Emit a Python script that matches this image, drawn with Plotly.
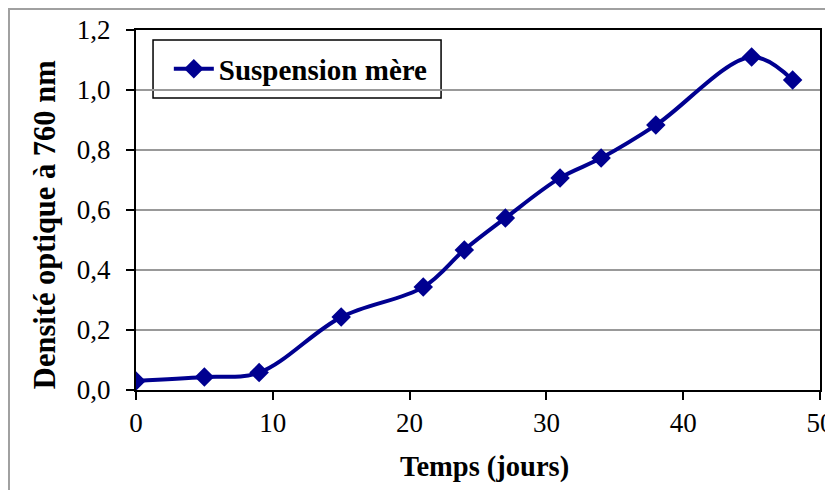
import plotly.graph_objects as go

jours = [0, 5, 9, 15, 21, 24, 27, 31, 34, 38, 45, 48]
densite = [0.03, 0.043, 0.058, 0.243, 0.343, 0.467, 0.573, 0.707, 0.773, 0.883, 1.11, 1.033]
serie_nom = "Suspension mère"
x_titre = "Temps (jours)"
y_titre = "Densité optique à 760 nm"

FONT = "Liberation Serif"
NAVY = "#000090"

fig = go.Figure()
fig.add_trace(go.Scatter(
    x=jours, y=densite, name=serie_nom,
    mode="lines+markers",
    line=dict(color=NAVY, width=4, shape="spline", smoothing=1),
    marker=dict(symbol="diamond", size=15, color=NAVY),
))

fig.update_layout(
    width=833, height=490,
    margin=dict(l=128, r=21, t=22, b=108, autoexpand=False),
    paper_bgcolor="white", plot_bgcolor="white",
    font=dict(family=FONT, size=27, color="black"),
    separators=", ",
    showlegend=True,
    legend=dict(
        x=0.048, y=0.8917, xanchor="left", yanchor="middle",
        borderwidth=0, bgcolor="rgba(0,0,0,0)",
        font=dict(family=FONT, size=29, color="black", weight="bold"),
        itemwidth=40,
    ),
    xaxis=dict(
        range=[0, 50], tickvals=[0, 10, 20, 30, 40, 50],
        automargin=False,
        tickfont=dict(family=FONT, size=27, color="black"),
        showline=True, linecolor="black", linewidth=2, mirror=True,
        ticks="outside", ticklen=8, tickcolor="black", tickwidth=2,
        showgrid=False, zeroline=False,
    ),
    yaxis=dict(
        range=[0, 1.2], tickvals=[0, 0.2, 0.4, 0.6, 0.8, 1.0, 1.2],
        automargin=False,
        tickformat=".1f",
        tickfont=dict(family=FONT, size=27, color="black"),
        ticklabelstandoff=10,
        showline=True, linecolor="black", linewidth=2, mirror=True,
        ticks="outside", ticklen=8, tickcolor="black", tickwidth=2,
        showgrid=True, gridcolor="#999999", gridwidth=1.5,
        zeroline=False,
    ),
    annotations=[
        dict(text=x_titre, xref="paper", yref="paper", x=0.5088, y=-0.2139,
             xanchor="center", yanchor="middle", showarrow=False,
             font=dict(family=FONT, size=28.5, color="black", weight="bold")),
        dict(text=y_titre, xref="paper", yref="paper", x=-0.133, y=0.458,
             xanchor="center", yanchor="middle", showarrow=False, textangle=-90,
             font=dict(family=FONT, size=30.5, color="black", weight="bold")),
    ],
    shapes=[
        dict(type="rect", xref="paper", yref="paper",
             x0=-0.1857, x1=1.2, y0=-0.5, y1=1.0583,
             line=dict(color="#a0a0a0", width=2), layer="below"),
        dict(type="rect", xref="paper", yref="paper",
             x0=0.0249, x1=0.446, y0=0.8111, y1=0.9722,
             line=dict(color="black", width=1.5), fillcolor="white", layer="between"),
    ],
)

fig.write_html("out.html")
